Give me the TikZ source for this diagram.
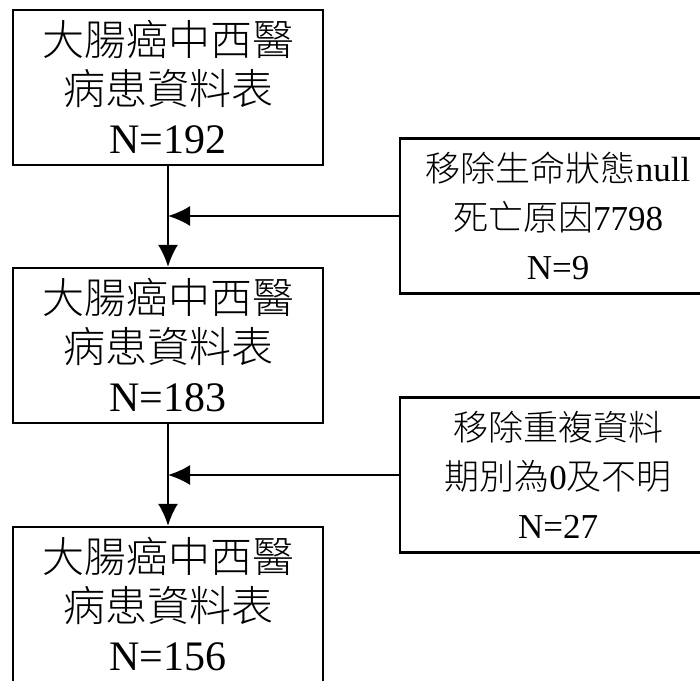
\documentclass[tikz,border=0pt]{standalone}
\usepackage{fontspec}
\setmainfont{Liberation Serif}
\newfontfamily\cjk{Noto Sans CJK TC Light}
\usetikzlibrary{arrows.meta}
\begin{document}
\begin{tikzpicture}[x=1pt,y=-1pt,
  mainbox/.style={draw, line width=2.3pt, minimum width=310pt, minimum height=155pt,
    inner sep=0pt, align=center, font=\fontsize{42}{49}\selectfont},
  sidebox/.style={draw, line width=2.3pt, minimum width=316pt, minimum height=155pt,
    inner sep=0pt, align=center, font=\fontsize{35}{49}\selectfont},
  flow/.style={line width=2pt, -{Latex[length=22pt,width=20pt]}}]
\useasboundingbox (0,0) rectangle (700,680);
\clip (0,0) rectangle (700,680);
\fill[white] (0,0) rectangle (700,680);
\node[mainbox] (b1) at (168,87.5) {{\cjk 大腸癌中西醫}\\{\cjk 病患資料表}\\N=192};
\node[mainbox] (b2) at (168,345.5) {{\cjk 大腸癌中西醫}\\{\cjk 病患資料表}\\N=183};
\node[mainbox] (b3) at (168,604.5) {{\cjk 大腸癌中西醫}\\{\cjk 病患資料表}\\N=156};
\node[sidebox] (sA) at (558,216) {{\cjk 移除生命狀態}null\\{\cjk 死亡原因}7798\\N=9};
\node[sidebox] (sB) at (558,475) {{\cjk 移除重複資料}\\{\cjk 期別為}0{\cjk 及不明}\\N=27};
\draw[flow] (b1.south) -- (b2.north);
\draw[flow] (b2.south) -- (b3.north);
\draw[flow] (sA.west) -- (sA.west -| b1.south);
\draw[flow] (sB.west) -- (sB.west -| b2.south);
\end{tikzpicture}
\end{document}
